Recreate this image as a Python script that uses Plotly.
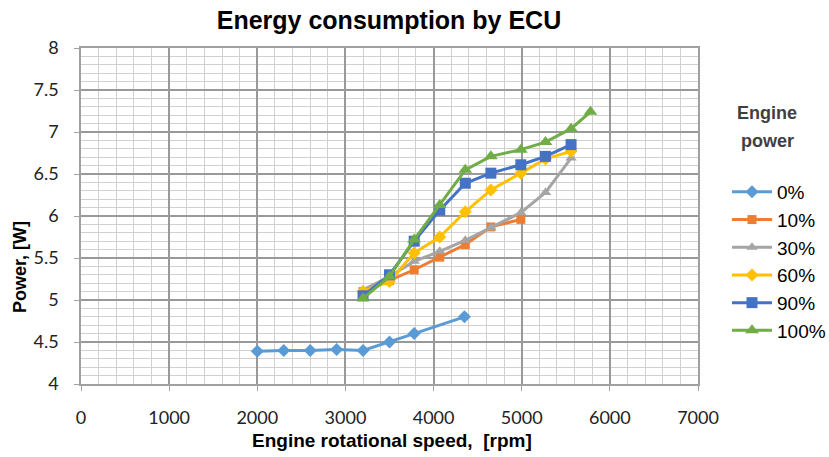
import plotly.graph_objects as go

x0 = [2000, 2300, 2600, 2900, 3200, 3500, 3780, 4350]
p0 = [4.39, 4.40, 4.40, 4.41, 4.40, 4.50, 4.60, 4.80]

x10 = [3200, 3500, 3780, 4070, 4360, 4650, 4990]
p10 = [5.10, 5.23, 5.36, 5.51, 5.66, 5.87, 5.96]

x30 = [3200, 3500, 3780, 4070, 4360, 4650, 4990, 5270, 5560]
p30 = [5.12, 5.28, 5.46, 5.58, 5.71, 5.86, 6.04, 6.28, 6.69]

x60 = [3200, 3500, 3780, 4070, 4360, 4650, 4990, 5270, 5560]
p60 = [5.10, 5.22, 5.56, 5.75, 6.05, 6.31, 6.51, 6.68, 6.77]

x90 = [3200, 3500, 3780, 4070, 4360, 4650, 4990, 5270, 5560]
p90 = [5.05, 5.30, 5.70, 6.07, 6.39, 6.51, 6.61, 6.71, 6.85]

x100 = [3200, 3500, 3780, 4070, 4360, 4650, 4990, 5270, 5560, 5780]
p100 = [5.02, 5.28, 5.72, 6.13, 6.55, 6.71, 6.79, 6.88, 7.04, 7.24]

series = [
    ("0%", x0, p0, "#5B9BD5", "diamond", 10),
    ("10%", x10, p10, "#ED7D31", "square", 9),
    ("30%", x30, p30, "#A5A5A5", "triangle-up", 10),
    ("60%", x60, p60, "#FFC000", "diamond", 10),
    ("90%", x90, p90, "#4472C4", "square", 11),
    ("100%", x100, p100, "#70AD47", "triangle-up", 12),
]

W, H = 829, 457
L, R, T, B = 81, 131, 48, 73
PW, PH = W - L - R, H - T - B

fig = go.Figure()
for name, xs, ys, col, sym, sz in series:
    fig.add_trace(go.Scatter(
        x=xs, y=ys, name=name, mode="lines+markers", legendgroup=name,
        line=dict(color=col, width=3),
        marker=dict(symbol=sym, size=sz, color=col),
    ))

def cx(px):
    return px / W

def cy(py):
    return 1 - py / H

def ax(px):
    return (px - L) / PW

def ay(py):
    return (H - B - py) / PH

fig.update_layout(
    width=W, height=H,
    margin=dict(l=L, r=R, t=T, b=B, autoexpand=False),
    paper_bgcolor="white", plot_bgcolor="white",
    title=dict(text="<b>Energy consumption by ECU</b>", x=cx(389), xanchor="center",
               y=cy(20), yanchor="middle", automargin=False,
               font=dict(family="Liberation Sans", size=25, color="black")),
    legend=dict(
        font=dict(family="Liberation Sans", size=19, color="black"),
        xref="container", yref="container",
        x=cx(727), xanchor="left", y=cy(173), yanchor="top",
        bgcolor="rgba(0,0,0,0)", itemwidth=40, tracegroupgap=0,
    ),
    showlegend=True,
    annotations=[
        dict(text="<b>Engine</b>", xref="paper", yref="paper", x=ax(767), y=ay(113),
             showarrow=False, xanchor="center", yanchor="middle",
             font=dict(family="Liberation Sans", size=18, color="#404040")),
        dict(text="<b>power</b>", xref="paper", yref="paper", x=ax(767), y=ay(141),
             showarrow=False, xanchor="center", yanchor="middle",
             font=dict(family="Liberation Sans", size=18, color="#404040")),
        dict(text="<b>Engine rotational speed,  [rpm]</b>", xref="paper", yref="paper",
             x=ax(392), y=ay(440), showarrow=False, xanchor="center", yanchor="middle",
             font=dict(family="Liberation Sans", size=19, color="black")),
        dict(text="<b>Power, [W]</b>", xref="paper", yref="paper", textangle=-90,
             x=ax(20), y=ay(267), showarrow=False, xanchor="center", yanchor="middle",
             font=dict(family="Liberation Sans", size=18, color="black")),
    ],
)

fig.update_xaxes(
    range=[0, 7000], dtick=1000, tick0=0, automargin=False,
    showgrid=True, gridcolor="#999999", gridwidth=1.5,
    minor=dict(dtick=200, showgrid=True, gridcolor="#d0d0d0", gridwidth=1.3),
    showline=True, linecolor="#a0a0a0", linewidth=1.5, mirror=True,
    ticks="outside", ticklen=5, tickcolor="#a0a0a0", ticklabelstandoff=12,
    tickfont=dict(family="Lato", size=18, color="#222222"),
    zeroline=False,
)
fig.update_yaxes(
    range=[4, 8], dtick=0.5, tick0=4, automargin=False,
    showgrid=True, gridcolor="#999999", gridwidth=1.5,
    minor=dict(dtick=0.1, showgrid=True, gridcolor="#d0d0d0", gridwidth=1.3),
    showline=True, linecolor="#a0a0a0", linewidth=1.5, mirror=True,
    ticks="outside", ticklen=5, tickcolor="#a0a0a0", ticklabelstandoff=12,
    tickfont=dict(family="Lato", size=18, color="#222222"),
    zeroline=False,
)

fig.write_html("out.html", config={"displayModeBar": False},
               post_script="document.body.style.margin='0';document.body.style.overflow='hidden';")
